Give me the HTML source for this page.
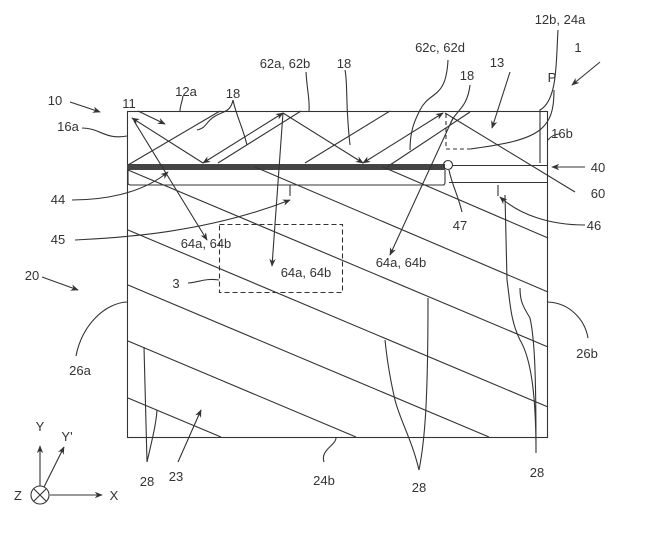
<!DOCTYPE html>
<html><head><meta charset="utf-8"><style>
html,body{margin:0;padding:0;background:#fff;}
svg{display:block;}
text{font-family:"Liberation Sans",sans-serif;font-size:13px;fill:#333;}
</style></head><body>
<svg width="646" height="534" viewBox="0 0 646 534" xmlns="http://www.w3.org/2000/svg">
<defs>
<marker id="a" viewBox="0 0 10 10" refX="9" refY="5" markerWidth="8" markerHeight="8" orient="auto-start-reverse" markerUnits="userSpaceOnUse"><path d="M0,1 L10,5 L0,9 L3,5 z" fill="#333"/></marker>
</defs>
<g stroke="#333" stroke-width="1.1" fill="none">
<rect x="127.5" y="111.5" width="420" height="326"/>
<rect x="127" y="164" width="318" height="6" fill="#444" stroke="none"/>
<path d="M128,170 L128,183 Q128,185 131,185 L443,185 Q445,185 445,182 L445,170"/>
<path d="M452,165.5 L548,165.5 M449,182.5 L548,182.5"/>
<circle cx="448" cy="165" r="4.5"/>
<path d="M128,165 L220,111"/>
<path d="M203,163 L283,113" marker-start="url(#a)" marker-end="url(#a)"/>
<path d="M218,163 L301,111"/>
<path d="M283,113 L363,163" marker-end="url(#a)"/>
<path d="M305,163 L390,111"/>
<path d="M363,163 L443,113" marker-start="url(#a)" marker-end="url(#a)"/>
<path d="M387,167 L470,112"/>
<path d="M203,163 L132,118" marker-end="url(#a)"/>
<path d="M445,113 L575,192"/>
<path d="M134,121 L207,240" marker-end="url(#a)"/>
<path d="M283,113 L272,266" marker-end="url(#a)"/>
<path d="M453,118 L390,255" marker-end="url(#a)"/>
<path d="M128,170 L548,347"/>
<path d="M128,230 L548,407"/>
<path d="M128,285 L489,437"/>
<path d="M128,341 L356,437"/>
<path d="M128,398 L221,437"/>
<path d="M255,167 L548,292"/>
<path d="M383,167 L548,238"/>
<rect x="219.5" y="224.5" width="123" height="68" stroke-dasharray="5,3"/>
<path d="M446,114 L446,149 L470,149" stroke-dasharray="4,3"/>
<path d="M138,111 L165,124" marker-end="url(#a)"/>
<path d="M70,102 L100,112" marker-end="url(#a)"/>
<path d="M82,128 C100,128 105,140 127,136"/>
<path d="M183,96 C182,103 180,106 180,111"/>
<path d="M233,100 C230,115 220,110 210,120 C205,125 205,128 197,130"/>
<path d="M233,100 C236,115 242,125 247,145"/>
<path d="M306,72 C307,90 310,100 309,111"/>
<path d="M345,70 C348,85 345,100 350,145"/>
<path d="M448,60 C446,100 430,90 420,110 C415,120 410,130 410,150"/>
<path d="M470,85 C467,110 455,110 450,125"/>
<path d="M510,72 L492,128" marker-end="url(#a)"/>
<path d="M600,62 L572,85" marker-end="url(#a)"/>
<path d="M558,30 C556,60 558,100 540,110 L540,163"/>
<path d="M554,90 C554,130 540,140 470,149"/>
<path d="M548,140 C552,135 556,134 560,134"/>
<path d="M585,167 L552,167" marker-end="url(#a)"/>
<path d="M75,240 C110,238 200,235 290,200" marker-end="url(#a)"/>
<path d="M290,185 L290,196"/>
<path d="M72,200 C100,200 140,195 168,172" marker-end="url(#a)"/>
<path d="M585,225 C550,225 520,215 500,197" marker-end="url(#a)"/>
<path d="M498,185 L498,196"/>
<path d="M449,170 C452,185 458,195 462,212"/>
<path d="M188,283 C200,282 205,278 219,280"/>
<path d="M42,277 L78,290" marker-end="url(#a)"/>
<path d="M127,302 C105,303 82,325 76,356"/>
<path d="M548,302 C570,303 585,320 588,338"/>
<path d="M147,462 L144,347 M147,462 C152,440 156,425 157,410"/>
<path d="M178,462 L201,410" marker-end="url(#a)"/>
<path d="M324,462 C320,450 336,445 336,438"/>
<path d="M419,470 C412,440 400,420 395,400 C388,370 386,350 385,340 M419,470 C425,440 428,400 428,298"/>
<path d="M536,453 C536,400 532,360 520,340 C510,320 510,300 507,280 L505,195 M536,453 C536,380 535,340 530,318 C522,305 520,300 520,288"/>
<circle cx="40" cy="495" r="9"/>
<path d="M34,489 L46,501 M46,489 L34,501"/>
<path d="M40,486 L40,446" marker-end="url(#a)"/>
<path d="M44,487 L64,447" marker-end="url(#a)"/>
<path d="M50,495 L102,495" marker-end="url(#a)"/>
</g>
<text x="560" y="24" text-anchor="middle">12b, 24a</text>
<text x="440" y="52" text-anchor="middle">62c, 62d</text>
<text x="578" y="52" text-anchor="middle">1</text>
<text x="497" y="67" text-anchor="middle">13</text>
<text x="467" y="80" text-anchor="middle">18</text>
<text x="552" y="82" text-anchor="middle">P</text>
<text x="186" y="96" text-anchor="middle">12a</text>
<text x="233" y="98" text-anchor="middle">18</text>
<text x="285" y="68" text-anchor="middle">62a, 62b</text>
<text x="344" y="68" text-anchor="middle">18</text>
<text x="129" y="108" text-anchor="middle">11</text>
<text x="55" y="105" text-anchor="middle">10</text>
<text x="68" y="131" text-anchor="middle">16a</text>
<text x="562" y="138" text-anchor="middle">16b</text>
<text x="598" y="172" text-anchor="middle">40</text>
<text x="598" y="198" text-anchor="middle">60</text>
<text x="58" y="204" text-anchor="middle">44</text>
<text x="58" y="244" text-anchor="middle">45</text>
<text x="460" y="230" text-anchor="middle">47</text>
<text x="594" y="230" text-anchor="middle">46</text>
<text x="206" y="248" text-anchor="middle">64a, 64b</text>
<text x="306" y="277" text-anchor="middle">64a, 64b</text>
<text x="401" y="267" text-anchor="middle">64a, 64b</text>
<text x="176" y="288" text-anchor="middle">3</text>
<text x="32" y="280" text-anchor="middle">20</text>
<text x="80" y="375" text-anchor="middle">26a</text>
<text x="587" y="358" text-anchor="middle">26b</text>
<text x="147" y="486" text-anchor="middle">28</text>
<text x="176" y="481" text-anchor="middle">23</text>
<text x="324" y="485" text-anchor="middle">24b</text>
<text x="419" y="492" text-anchor="middle">28</text>
<text x="537" y="477" text-anchor="middle">28</text>
<text x="40" y="431" text-anchor="middle">Y</text>
<text x="67" y="441" text-anchor="middle">Y'</text>
<text x="18" y="500" text-anchor="middle">Z</text>
<text x="114" y="500" text-anchor="middle">X</text>
</svg>
</body></html>
